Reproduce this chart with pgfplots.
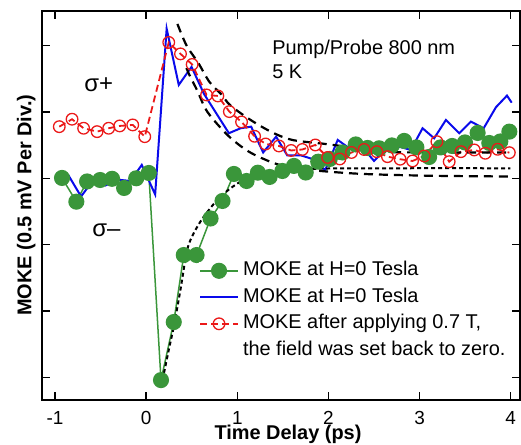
\documentclass[border=0pt]{standalone}
\usepackage{fontspec}
\setmainfont{Liberation Sans}
\usepackage{pgfplots}
\pgfplotsset{compat=1.18}
\definecolor{mgreen}{RGB}{58,150,58}
\definecolor{mblue}{RGB}{10,10,235}
\definecolor{mred}{RGB}{235,25,25}
\begin{document}
\begin{tikzpicture}[x=1bp,y=1bp]
\path[use as bounding box] (0,0) rectangle (521,445);
\begin{axis}[
  at={(42bp,45bp)}, anchor=south west,
  width=478bp, height=389.3bp, scale only axis,
  xmin=-1.1426, xmax=4.102, ymin=-3.342, ymax=2.526,
  xtick={-1,0,1,2,3,4}, ytick={-3,-2,-1,0,1,2}, yticklabels={},
  tick align=inside, major tick length=8bp, tick pos=both,
  every tick/.style={line width=1.4bp, black},
  axis line style={line width=1.8bp},
  /pgf/number format/assume math mode=true,
  xticklabel style={font=\fontsize{19}{22}\selectfont, anchor=base, yshift=-25bp},
  xlabel={\bfseries Time Delay (ps)},
  xlabel style={font=\fontsize{20}{24}\selectfont, at={(axis description cs:0.5146,-0.1027)}, anchor=base},
  ylabel={\bfseries MOKE (0.5 mV Per Div.)},
  ylabel style={font=\fontsize{20}{24}\selectfont, at={(axis description cs:-0.022,0.5)}, anchor=base, rotate=0},
  legend style={at={(axis description cs:0.3285,0.355)}, anchor=north west, draw=none, fill=white,
    inner sep=0pt, outer sep=0pt, font=\fontsize{20}{24}\selectfont, row sep=8.5bp,
    nodes={inner sep=0pt, text height=14bp, text depth=4bp},
    /tikz/every odd column/.append style={column sep=4bp}},
  legend cell align=left,
  legend image code/.code={\draw[mark repeat=2,mark phase=2,#1] plot coordinates {(0bp,0bp) (19bp,0bp) (38bp,0bp)};},
]
% green: MOKE at H=0 (sigma-)
\addplot[color=mgreen, line width=1.5bp, mark=*, mark size=7.3bp, mark options={fill=mgreen, draw=mgreen, solid}] coordinates {
(-0.923,0.005) (-0.766,-0.353) (-0.648,-0.048) (-0.505,-0.026) (-0.374,-0.008) (-0.242,-0.146) (-0.109,0.0) (0.029,0.080)
(0.163,-3.042) (0.303,-2.167) (0.413,-1.157) (0.553,-1.157) (0.707,-0.606) (0.838,-0.342) (0.963,0.065) (1.102,-0.041)
(1.226,0.084) (1.355,0.020) (1.495,0.110) (1.622,0.186) (1.751,0.087) (1.888,0.250) (2.014,0.291) (2.154,0.389)
(2.300,0.510) (2.429,0.457) (2.556,0.452) (2.696,0.495) (2.831,0.563) (2.965,0.465) (3.105,0.321) (3.231,0.465)
(3.357,0.487) (3.498,0.540) (3.637,0.683) (3.765,0.532) (3.886,0.555) (3.985,0.703)
};
\addlegendentry{MOKE at H=0 Tesla}
% blue: MOKE at H=0 (sigma+)
\addplot[color=mblue, line width=2bp] coordinates {
(-0.997,-0.048) (-0.848,0.035) (-0.714,-0.275) (-0.568,-0.003) (-0.447,-0.109) (-0.310,-0.021) (-0.173,-0.041) (-0.048,0.201)
(0.099,-0.244) (0.225,2.255) (0.358,1.407) (0.498,1.679) (0.635,1.271) (0.908,0.679) (1.036,0.754) (1.152,0.778)
(1.284,0.389) (1.426,0.627) (1.549,0.344) (1.701,0.344) (1.824,0.291) (1.965,0.125) (2.102,0.578) (2.229,0.452)
(2.366,0.477) (2.501,0.261) (2.641,0.465) (2.776,0.477) (2.904,0.427) (3.033,0.754) (3.160,0.603) (3.289,0.879)
(3.435,0.679) (3.564,0.854) (3.703,0.754) (3.838,1.071) (3.959,1.246) (4.011,1.140)
};
\addlegendentry{MOKE at H=0 Tesla}
% red: after applying 0.7 T
\addplot[color=mred, line width=1.8bp, dash pattern=on 7bp off 4bp, mark=o, mark size=5.8bp, mark options={solid, line width=1.3bp}] coordinates {
(-0.953,0.778) (-0.813,0.890) (-0.686,0.754) (-0.538,0.703) (-0.411,0.754) (-0.290,0.789) (-0.147,0.804) (-0.015,0.627)
(0.248,2.048) (0.377,1.875) (0.505,1.716) (0.663,1.256) (0.787,1.241) (0.913,1.005) (1.047,0.849) (1.190,0.633)
(1.311,0.517) (1.457,0.487) (1.591,0.419) (1.714,0.434) (1.856,0.502) (1.991,0.314) (2.125,0.291) (2.253,0.389)
(2.391,0.434) (2.531,0.401) (2.648,0.326) (2.787,0.287) (2.923,0.261) (3.051,0.336) (3.190,0.552) (3.325,0.250)
(3.454,0.401) (3.600,0.427) (3.721,0.377) (3.857,0.437) (3.985,0.386)
};
\addlegendentry{MOKE after applying 0.7 T,}
\addlegendimage{empty legend}
\addlegendentry{the field was set back to zero.}
% fits
\addplot[black, line width=2.2bp, dash pattern=on 9bp off 6bp, smooth, forget plot] coordinates {
(0.3434,2.326) (0.442,2.005) (0.574,1.734) (0.695,1.4515) (0.826,1.263) (0.925,1.097) (1.155,0.871) (1.386,0.690)
(1.605,0.577) (1.967,0.517) (2.384,0.442) (2.614,0.396) (3.339,0.389) (3.997,0.389)
};
\addplot[black, line width=2.2bp, dash pattern=on 9bp off 6bp, smooth, forget plot] coordinates {
(0.442,1.662) (0.475,1.557) (0.563,1.316) (0.673,0.999) (0.903,0.638) (1.133,0.396) (1.397,0.231) (1.594,0.163)
(1.914,0.110) (2.384,0.065) (3.119,0.038) (3.997,0.027)
};
\addplot[black, line width=2bp, dash pattern=on 4bp off 3bp, smooth, forget plot] coordinates {
(0.165,-3.141) (0.248,-2.588) (0.303,-2.237) (0.376,-1.684) (0.450,-1.081) (0.522,-0.829) (0.632,-0.579) (0.815,-0.277)
(1.035,-0.051) (1.218,0.024) (1.364,0.075) (1.583,0.125) (2.022,0.148) (2.79,0.151) (3.997,0.151)
};
\node[font=\fontsize{24}{28}\selectfont] at (axis cs:-0.52,1.406) {σ+};
\node[font=\fontsize{24}{28}\selectfont] at (axis cs:-0.435,-0.787) {σ–};
\node[font=\fontsize{20}{24}\selectfont, anchor=base west, inner sep=0pt] at (axis cs:1.3825,1.859) {Pump/Probe 800 nm};
\node[font=\fontsize{20}{24}\selectfont, anchor=base west, inner sep=0pt] at (axis cs:1.3825,1.507) {5 K};
\end{axis}
\end{tikzpicture}
\end{document}
